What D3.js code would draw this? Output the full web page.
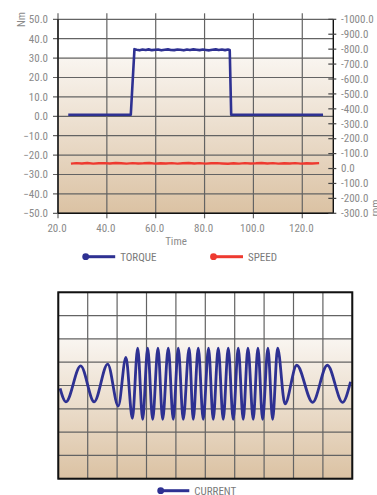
<!DOCTYPE html>
<html><head><meta charset="utf-8">
<script src="https://cdn.jsdelivr.net/npm/d3@7"></script>
<style>
html,body{margin:0;padding:0;background:#fff;}
svg{display:block;}
text{font-family:"Liberation Sans Narrow","Arial Narrow","Roboto Condensed",sans-serif;}
</style></head>
<body>
<svg id="c" width="377" height="495"></svg>
<script>
// ---------- DATA ----------
const xTicks = [20, 40, 60, 80, 100, 120];
const leftTicks = [-50, -40, -30, -20, -10, 0, 10, 20, 30, 40, 50];
const rightTickValues = [1000, 900, 800, 700, 600, 500, 400, 300, 200, 100, 0, -100, -200, -300];
const rightTickLabels = ["-1000.0", "-900.0", "-800.0", "-700.0", "-600.0", "-500.0", "-400.0", "-300.0", "-200.0", "-100.0", "0.0", "-100.0", "-200.0", "-300.0"];

const torqueTime = [24.2, 49.8, 51.3, 52.2, 53.4, 54.6, 55.9, 57.1, 58.4, 59.8, 61.0, 62.3, 63.7, 65.0, 66.2, 67.6, 68.9, 70.1, 71.5, 72.8, 74.0, 75.4, 76.7, 78.0, 79.3, 80.6, 81.9, 83.2, 84.6, 85.8, 87.1, 88.4, 89.6, 90.3, 90.9, 128.5];
const torqueValue = [0.8, 0.8, 34.6, 34.3, 34.0, 34.4, 34.2, 34.5, 34.1, 34.3, 34.4, 34.0, 34.3, 34.5, 34.2, 34.1, 34.4, 34.3, 34.0, 34.4, 34.2, 34.5, 34.3, 34.1, 34.4, 34.2, 34.0, 34.3, 34.5, 34.2, 34.4, 34.1, 34.4, 34.2, 0.8, 0.8];

const speedTime = [25.3, 27.5, 29.8, 32.0, 34.4, 36.7, 39.0, 41.2, 43.6, 45.9, 48.1, 50.5, 52.8, 55.0, 57.4, 59.7, 62.0, 64.2, 66.6, 68.9, 71.1, 73.5, 75.8, 78.0, 80.4, 82.7, 85.0, 87.2, 89.6, 91.9, 94.1, 96.5, 98.8, 101.0, 103.4, 105.7, 108.0, 110.2, 112.6, 114.9, 117.1, 119.5, 121.8, 124.0, 126.9];
const speedValue = [33, 36, 34, 37, 33, 35, 36, 34, 37, 35, 33, 36, 34, 35, 37, 33, 35, 34, 36, 33, 35, 37, 34, 36, 33, 35, 36, 34, 32, 35, 33, 36, 34, 35, 37, 34, 36, 33, 35, 34, 36, 33, 35, 34, 36];

const currentX = [0.06, 0.26, 0.76, 1.22, 1.68, 2.04, 2.30, 2.52,
  2.70, 2.87, 3.04, 3.21, 3.39, 3.55, 3.74, 3.91, 4.08, 4.25, 4.45, 4.59, 4.76, 4.93, 5.11, 5.27, 5.44, 5.61, 5.78, 5.95, 6.12, 6.29, 6.45, 6.63, 6.79, 6.95, 7.13, 7.29, 7.46,
  7.71, 8.11, 8.65, 9.15, 9.67, 9.94];
const currentY = [-0.12, -0.70, 0.84, -0.70, 0.92, -0.88, 1.21, -1.41,
  1.60, -1.45, 1.60, -1.45, 1.60, -1.45, 1.60, -1.45, 1.60, -1.45, 1.60, -1.45, 1.60, -1.45, 1.60, -1.45, 1.60, -1.45, 1.60, -1.45, 1.60, -1.45, 1.60, -1.45, 1.60, -1.45, 1.60, -1.45, 1.60,
  -0.79, 0.87, -0.72, 0.87, -0.72, 0.16];
const currentCols = [0, 1, 2, 3, 4, 5, 6, 7, 8, 9, 10];
const currentRows = [-4, -3, -2, -1, 0, 1, 2, 3, 4];

// ---------- STYLE ----------
const BLUE = "#2e3192", RED = "#ee3a30", GRID = "#636363", TXT = "#8a8a8a", TAN = "#dbc2a3";

const svg = d3.select("#c");
const defs = svg.append("defs");
function grad(id, whiteStop) {
  const g = defs.append("linearGradient").attr("id", id).attr("x1", 0).attr("y1", 0).attr("x2", 0).attr("y2", 1);
  g.append("stop").attr("offset", 0).attr("stop-color", "#ffffff");
  g.append("stop").attr("offset", whiteStop).attr("stop-color", "#ffffff");
  g.append("stop").attr("offset", whiteStop + 0.01).attr("stop-color", "#f9f5f0");
  g.append("stop").attr("offset", 1).attr("stop-color", TAN);
}
grad("g1", 0.19);
grad("g2", 0.245);

// ---------- TOP CHART ----------
const L = 58, R = 333.3, T = 19.3, B = 213.3;
const x = d3.scaleLinear().domain([20, 132.7]).range([L, R]);
const yL = d3.scaleLinear().domain([-50, 50]).range([B, T]);
const yR = d3.scaleLinear().domain([-300, 1000]).range([B, T]);

svg.append("rect").attr("x", L).attr("y", T).attr("width", R - L).attr("height", B - T).attr("fill", "url(#g1)");

const topG = svg.append("g");
topG.selectAll(".hg").data(leftTicks).join("line")
  .attr("x1", L - 5).attr("x2", R).attr("y1", d => yL(d)).attr("y2", d => yL(d))
  .attr("stroke", GRID).attr("stroke-width", 1.2);
topG.selectAll(".vg").data(xTicks).join("line")
  .attr("x1", d => x(d)).attr("x2", d => x(d)).attr("y1", T - 6).attr("y2", B + 5)
  .attr("stroke", GRID).attr("stroke-width", 1.2);

topG.append("line").attr("x1", L).attr("x2", L).attr("y1", T).attr("y2", B).attr("stroke", "#111").attr("stroke-width", 1.4);
topG.append("line").attr("x1", L).attr("x2", R).attr("y1", B).attr("y2", B).attr("stroke", "#111").attr("stroke-width", 1.4);
topG.append("line").attr("x1", R).attr("x2", R).attr("y1", T).attr("y2", B).attr("stroke", "#111").attr("stroke-width", 1.4);

topG.selectAll(".rt").data(rightTickValues).join("line")
  .attr("x1", R - 5).attr("x2", R + 3).attr("y1", d => yR(d)).attr("y2", d => yR(d))
  .attr("stroke", "#444").attr("stroke-width", 1.2);

topG.selectAll(".ll").data(leftTicks).join("text")
  .attr("x", 48).attr("y", d => yL(d) + 3.8).attr("text-anchor", "end")
  .attr("font-size", 11).attr("fill", TXT).text(d => d3.format(".1f")(d));
topG.selectAll(".rl").data(rightTickValues).join("text")
  .attr("x", 341).attr("y", (d) => yR(d) + 3.8).attr("text-anchor", "start")
  .attr("font-size", 11).attr("fill", TXT).text((d, i) => rightTickLabels[i]);
topG.selectAll(".xl").data(xTicks).join("text")
  .attr("x", d => x(d) - 1).attr("y", 232).attr("text-anchor", "middle")
  .attr("font-size", 11).attr("fill", TXT).text(d => d3.format(".1f")(d));

topG.append("text").attr("x", 176).attr("y", 244.5).attr("text-anchor", "middle")
  .attr("font-size", 11).attr("fill", TXT).text("Time");
topG.append("text").attr("transform", "translate(25,19.5) rotate(-90)").attr("text-anchor", "middle")
  .attr("font-size", 11).attr("fill", TXT).text("Nm");
topG.append("text").attr("transform", "translate(379,208) rotate(-90)").attr("text-anchor", "middle")
  .attr("font-size", 11).attr("fill", TXT).text("rpm");

const speedLine = d3.line().x((d, i) => x(speedTime[i])).y(d => yR(d));
topG.append("path").datum(speedValue).attr("d", speedLine)
  .attr("fill", "none").attr("stroke", RED).attr("stroke-width", 2.4).attr("stroke-linejoin", "round");
const torqueLine = d3.line().x((d, i) => x(torqueTime[i])).y(d => yL(d));
topG.append("path").datum(torqueValue).attr("d", torqueLine)
  .attr("fill", "none").attr("stroke", BLUE).attr("stroke-width", 2.6).attr("stroke-linejoin", "round");

function legendItem(g, cx, cy, len, color, label) {
  g.append("line").attr("x1", cx).attr("x2", cx + len).attr("y1", cy).attr("y2", cy)
    .attr("stroke", color).attr("stroke-width", 3);
  g.append("circle").attr("cx", cx).attr("cy", cy).attr("r", 3.4).attr("fill", color);
  g.append("text").attr("x", cx + len + 5).attr("y", cy + 4).attr("font-size", 11).attr("fill", "#7a7a7a").text(label);
}
legendItem(svg, 85.7, 256.7, 29.5, BLUE, "TORQUE");
legendItem(svg, 213.5, 256.7, 29.5, RED, "SPEED");

// ---------- BOTTOM CHART ----------
const L2 = 58.3, R2 = 352.3, T2 = 292.3, B2 = 478.7;
const x2 = d3.scaleLinear().domain([0, 10]).range([L2, R2]);
const y2 = d3.scaleLinear().domain([-4, 4]).range([B2, T2]);
const bot = svg.append("g");
bot.append("rect").attr("x", L2).attr("y", T2).attr("width", R2 - L2).attr("height", B2 - T2).attr("fill", "url(#g2)");
bot.selectAll(".v2").data(currentCols).join("line")
  .attr("x1", d => x2(d)).attr("x2", d => x2(d)).attr("y1", T2).attr("y2", B2)
  .attr("stroke", GRID).attr("stroke-width", 1.2);
bot.selectAll(".h2").data(currentRows).join("line")
  .attr("x1", L2).attr("x2", R2).attr("y1", d => y2(d)).attr("y2", d => y2(d))
  .attr("stroke", GRID).attr("stroke-width", 1.2);
const curLine = d3.line().x((d, i) => x2(currentX[i])).y(d => y2(d)).curve(d3.curveMonotoneX);
bot.append("path").datum(currentY).attr("d", curLine)
  .attr("fill", "none").attr("stroke", BLUE).attr("stroke-width", 2.8).attr("stroke-linejoin", "round");
bot.append("rect").attr("x", L2).attr("y", T2).attr("width", R2 - L2).attr("height", B2 - T2)
  .attr("fill", "none").attr("stroke", "#111").attr("stroke-width", 2);

legendItem(svg, 160.7, 490.7, 28.6, BLUE, "CURRENT");
</script>
</body></html>
